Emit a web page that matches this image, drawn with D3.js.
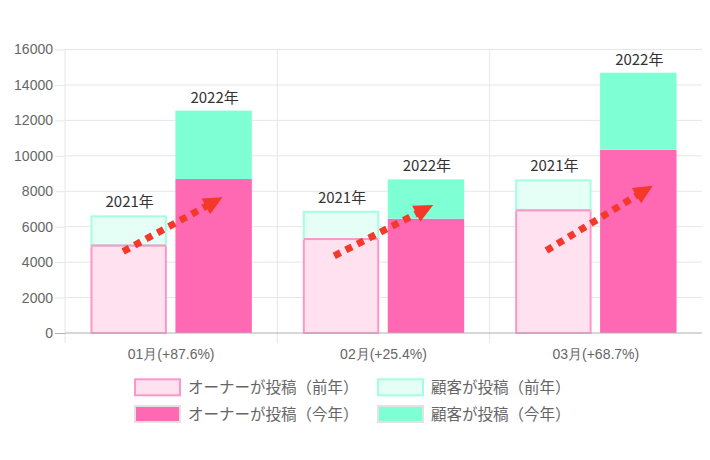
<!DOCTYPE html>
<html><head><meta charset="utf-8">
<script src="https://cdn.jsdelivr.net/npm/d3@7"></script>
<style>
html,body{margin:0;padding:0;background:#fff;}
svg{display:block;}
</style></head>
<body>
<svg id="chart" width="710" height="460"></svg>
<script>
const categories = ["01月(+87.6%)", "02月(+25.4%)", "03月(+68.7%)"];
const ownerPrev = [5000, 5360, 6980];
const customerPrev = [1640, 1540, 1690];
const ownerCur = [8690, 6450, 10340];
const customerCur = [3860, 2220, 4350];
const yTicks = [0, 2000, 4000, 6000, 8000, 10000, 12000, 14000, 16000];
const yearLabels = ["2021年", "2022年"];
const legendLabels = ["オーナーが投稿（前年）", "顧客が投稿（前年）", "オーナーが投稿（今年）", "顧客が投稿（今年）"];
// trend arrows (value units + position inside the category band)
const arrowFromValue = [4600, 4350, 4650];
const arrowToValue = [7660, 7220, 8310];
const arrowFromPos = [0.274, 0.268, 0.267];
const arrowToPos = [0.742, 0.734, 0.768];

const COL = {
  ownerPrevFill: "#ffe1ef", ownerPrevStroke: "#ff96c9",
  custPrevFill: "#e5fff6", custPrevStroke: "#a3ffe0",
  ownerCur: "#ff69b4", custCur: "#7fffd4",
  arrow: "#f4392a", grid: "#e6e6e6", axis: "#b0b0b0", tick: "#666"
};
const svg = d3.select("#chart");
const L = 65, R = 702, T = 49.5, B = 333;
const x = d3.scaleBand().domain(categories).range([L, R]).padding(0);
const bw = x.bandwidth();
const inner = d3.scaleBand().domain(["prev", "cur"]).range([0.1 * bw, 0.9 * bw]).paddingInner(0.1).paddingOuter(0.05);
const y = d3.scaleLinear().domain([0, 16000]).range([B, T]);

// horizontal grid
svg.append("g").selectAll("line").data(yTicks.slice(1)).join("line")
  .attr("x1", L).attr("x2", R).attr("y1", d => y(d)).attr("y2", d => y(d))
  .attr("stroke", COL.grid).attr("stroke-width", 1);
// vertical grid at band edges
const edges = categories.map(c => x(c));
svg.append("g").selectAll("line").data(edges).join("line")
  .attr("x1", d => d).attr("x2", d => d).attr("y1", T).attr("y2", B + 10)
  .attr("stroke", COL.grid).attr("stroke-width", 1);

// y axis
const yAxis = d3.axisLeft(y).tickValues(yTicks).tickSize(10).tickPadding(2).tickFormat(d3.format("d"));
const gy = svg.append("g").attr("transform", `translate(${L},0)`).call(yAxis);
gy.select(".domain").remove();
gy.selectAll(".tick line").attr("stroke", d => d === 0 ? COL.axis : COL.grid);
gy.selectAll(".tick text").attr("fill", COL.tick)
  .style("font-family", "'Liberation Sans', Arial, sans-serif").style("font-size", "14px");

// bars
const stacks = [
  {key: "prev", a: ownerPrev, b: customerPrev, fa: COL.ownerPrevFill, sa: COL.ownerPrevStroke, fb: COL.custPrevFill, sb: COL.custPrevStroke, sw: 2},
  {key: "cur", a: ownerCur, b: customerCur, fa: COL.ownerCur, sa: COL.ownerCur, fb: COL.custCur, sb: COL.custCur, sw: 0}
];
const gb = svg.append("g");
stacks.forEach((s, si) => {
  categories.forEach((c, i) => {
    const x0 = x(c) + inner(s.key), w = inner.bandwidth();
    const v1 = s.a[i], v2 = s.a[i] + s.b[i];
    const h = s.sw / 2;
    gb.append("rect").attr("x", x0 + h).attr("y", y(v1) + h)
      .attr("width", w - 2 * h).attr("height", y(0) - y(v1) - h)
      .attr("fill", s.fa).attr("stroke", s.sw ? s.sa : "none").attr("stroke-width", s.sw);
    gb.append("rect").attr("x", x0 + h).attr("y", y(v2) + h)
      .attr("width", w - 2 * h).attr("height", y(v1) - y(v2))
      .attr("fill", s.fb).attr("stroke", s.sw ? s.sb : "none").attr("stroke-width", s.sw);
    if (s.sw) {
      gb.append("line").attr("x1", x0 + h).attr("x2", x0 + w - h).attr("y1", y(v1) + h).attr("y2", y(v1) + h)
        .attr("stroke", s.sa).attr("stroke-width", s.sw);
    }
    gb.append("text").attr("x", x0 + w / 2 + 1).attr("y", y(v2) - 8)
      .attr("text-anchor", "middle").attr("fill", "#333")
      .style("font-family", "'Noto Sans CJK JP', sans-serif").style("font-size", "15px")
      .text(yearLabels[si]);
  });
});

// x axis baseline
svg.append("line").attr("x1", L).attr("x2", R).attr("y1", B).attr("y2", B)
  .attr("stroke", COL.axis).attr("stroke-width", 1);
// x labels
svg.append("g").selectAll("text").data(categories).join("text")
  .attr("x", d => x(d) + bw / 2).attr("y", 358.5).attr("text-anchor", "middle")
  .attr("fill", COL.tick).style("font-family", "'Liberation Sans', Arial, sans-serif").style("font-size", "14px")
  .text(d => d);

// arrows
const ga = svg.append("g");
categories.forEach((c, i) => {
  const x1 = x(c) + arrowFromPos[i] * bw, y1 = y(arrowFromValue[i]);
  const x2 = x(c) + arrowToPos[i] * bw, y2 = y(arrowToValue[i]);
  const ang = Math.atan2(y2 - y1, x2 - x1);
  const hl = 19, hw = 9;
  const bx = x2 - hl * Math.cos(ang), by = y2 - hl * Math.sin(ang);
  ga.append("line").attr("x1", x1).attr("y1", y1).attr("x2", bx + 2 * Math.cos(ang)).attr("y2", by + 2 * Math.sin(ang))
    .attr("stroke", COL.arrow).attr("stroke-width", 7).attr("stroke-dasharray", "7 6");
  const px = -Math.sin(ang), py = Math.cos(ang);
  ga.append("path").attr("d", `M${x2},${y2}L${bx + hw * px},${by + hw * py}L${bx - hw * px},${by - hw * py}Z`)
    .attr("fill", COL.arrow);
});

// legend
const legendFill = [COL.ownerPrevFill, COL.custPrevFill, COL.ownerCur, COL.custCur];
const legendStroke = [COL.ownerPrevStroke, COL.custPrevStroke, "#e2e2e2", "#e2e2e2"];
const lg = svg.append("g");
legendLabels.forEach((t, i) => {
  const col = i % 2, row = Math.floor(i / 2);
  const bx = col === 0 ? 134 : 377, cy = 387.3 + row * 26.7;
  lg.append("rect").attr("x", bx + 1).attr("y", cy - 8).attr("width", 45).attr("height", 16)
    .attr("fill", legendFill[i]).attr("stroke", legendStroke[i]).attr("stroke-width", 2);
  lg.append("text").attr("x", bx + 54).attr("y", cy + 5.5).attr("fill", "#666")
    .style("font-family", "'Noto Sans CJK JP', sans-serif").style("font-size", "15.5px").text(t);
});
</script>
</body></html>
